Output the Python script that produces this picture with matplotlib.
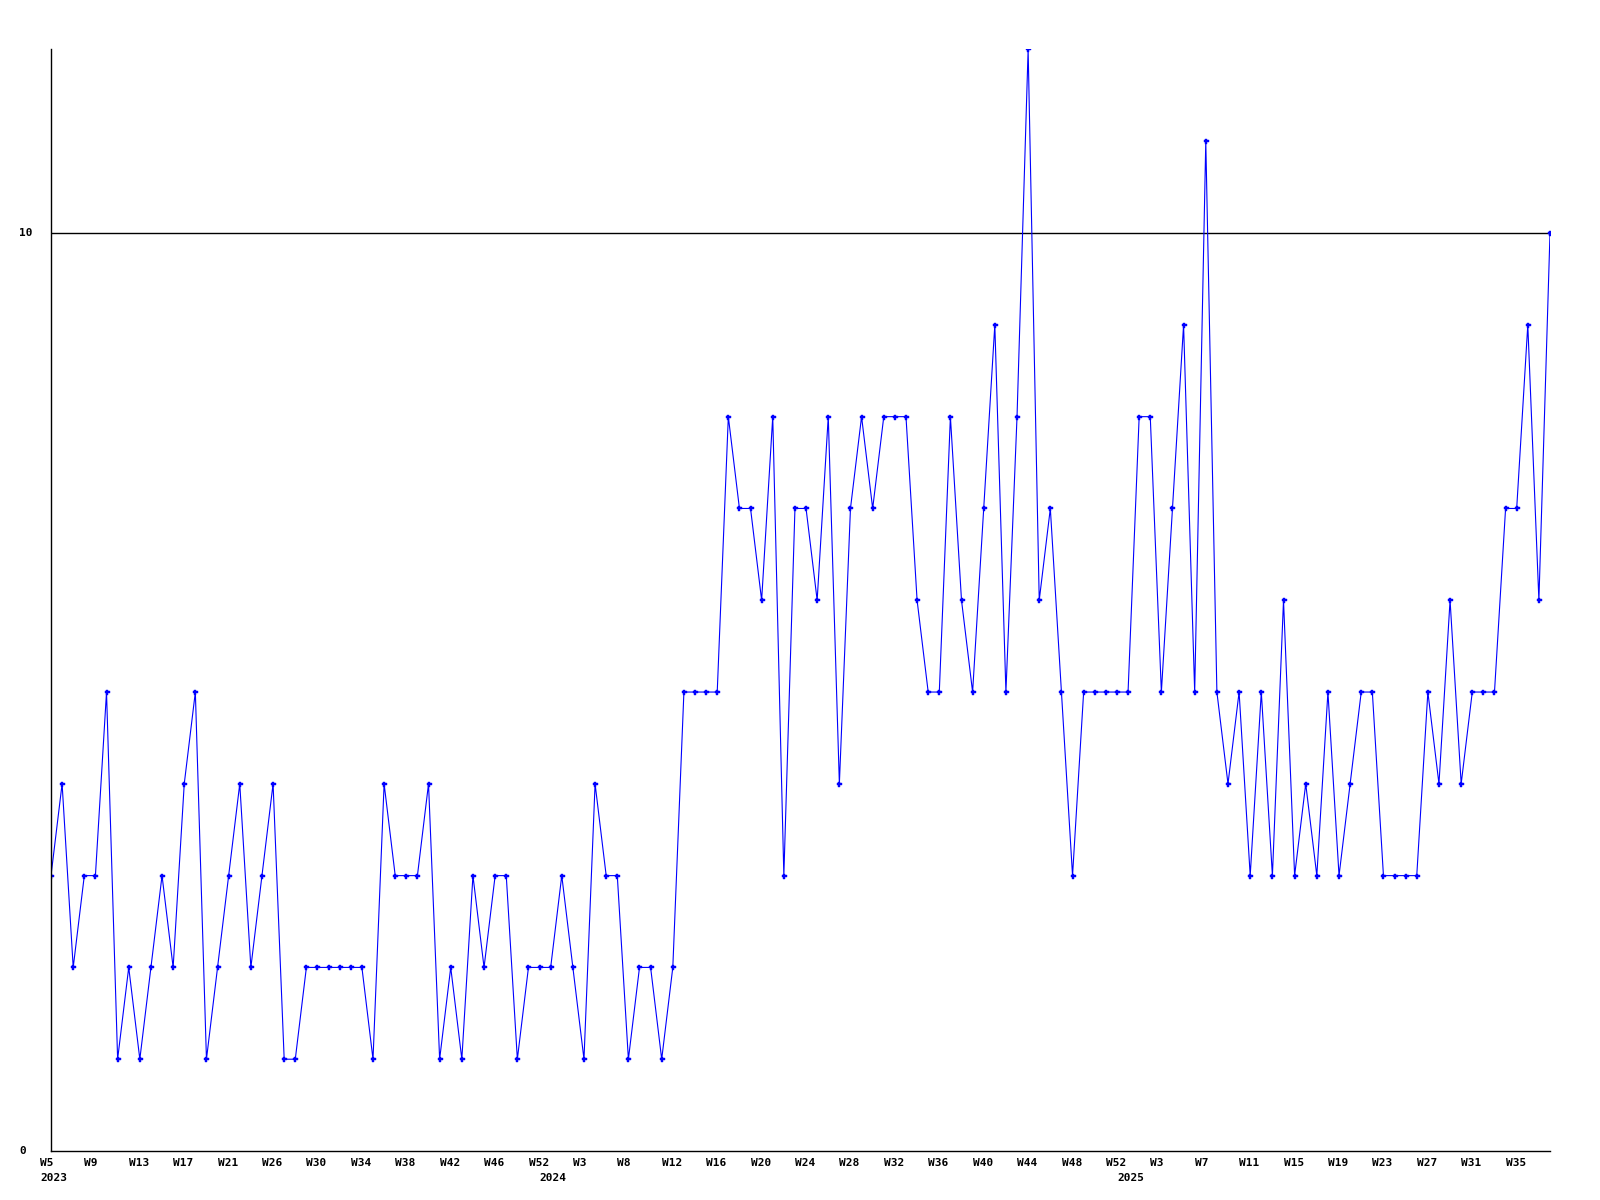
import matplotlib
matplotlib.use("Agg")
import matplotlib.pyplot as plt
import matplotlib.transforms as mtransforms

values = [3, 4, 2, 3, 3, 5, 1, 2, 1, 2, 3, 2, 4, 5, 1, 2, 3, 4, 2, 3,
          4, 1, 1, 2, 2, 2, 2, 2, 2, 1, 4, 3, 3, 3, 4, 1, 2, 1, 3, 2,
          3, 3, 1, 2, 2, 2, 3, 2, 1, 4, 3, 3, 1, 2, 2, 1, 2, 5, 5, 5,
          5, 8, 7, 7, 6, 8, 3, 7, 7, 6, 8, 4, 7, 8, 7, 8, 8, 8, 6, 5,
          5, 8, 6, 5, 7, 9, 5, 8, 12, 6, 7, 5, 3, 5, 5, 5, 5, 5, 8, 8,
          5, 7, 9, 5, 11, 5, 4, 5, 3, 5, 3, 6, 3, 4, 3, 5, 3, 4, 5, 5,
          3, 3, 3, 3, 5, 4, 6, 4, 5, 5, 5, 7, 7, 9, 6, 10]

week_labels = ["W5", "W9", "W13", "W17", "W21", "W26", "W30", "W34", "W38",
               "W42", "W46", "W52", "W3", "W8", "W12", "W16", "W20", "W24",
               "W28", "W32", "W36", "W40", "W44", "W48", "W52", "W3", "W7",
               "W11", "W15", "W19", "W23", "W27", "W31", "W35"]
label_step = 4

year_labels = ["2023", "2024", "2025"]
year_starts = [0, 45, 97]

y_ticks = [0, 10]

fig = plt.figure(figsize=(16, 12), dpi=100)
ax = fig.add_axes([51 / 1600, 1 - 1151 / 1200, 1499 / 1600, 1101.5 / 1200])

x = list(range(len(values)))
ax.plot(x, values, color="#0000ff", lw=0.8, marker="P", ms=3.6,
        mec="#0000ff", mfc="#0000ff", mew=0.3)

ax.set_xlim(0, len(values) - 1)
ax.set_ylim(0, 12)

for s in ["top", "right"]:
    ax.spines[s].set_visible(False)
for s in ["left", "bottom"]:
    ax.spines[s].set_color("black")
    ax.spines[s].set_linewidth(1.0)

ax.axhline(10, color="black", lw=1.0, zorder=0)

ax.set_xticks([])
ax.set_yticks([])

font = dict(family="DejaVu Sans Mono", weight="bold", size=8, color="black")

blend = mtransforms.blended_transform_factory(ax.transData, fig.transFigure)
offset = mtransforms.ScaledTranslation(-11 / 100, 0, fig.dpi_scale_trans)

for i, lab in enumerate(week_labels):
    ax.text(i * label_step, 1 - 1163 / 1200, lab, transform=blend + offset,
            ha="left", va="center", **font)

for yl, st in zip(year_labels, year_starts):
    ax.text(st, 1 - 1178 / 1200, yl, transform=blend + offset,
            ha="left", va="center", **font)

blend_y = mtransforms.blended_transform_factory(fig.transFigure, ax.transData)
for yt in y_ticks:
    ax.text(19.5 / 1600, yt, str(yt), transform=blend_y, ha="left",
            va="center", **font)

fig.savefig("out.png", dpi=100, facecolor="white")
